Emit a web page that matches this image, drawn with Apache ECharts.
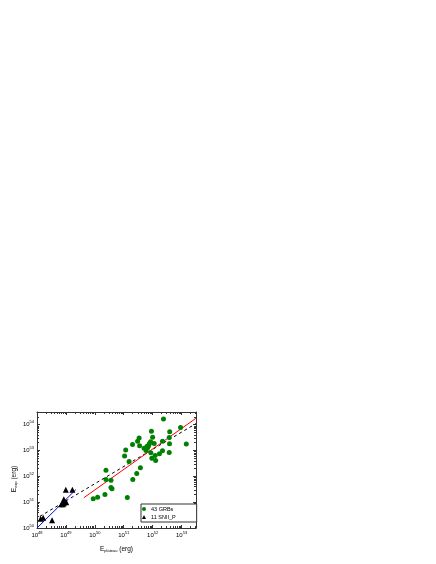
<!DOCTYPE html>
<html><head><meta charset="utf-8">
<script src="https://cdn.jsdelivr.net/npm/echarts@6/dist/echarts.min.js"></script>
<style>html,body{margin:0;padding:0;background:#fff}#c{width:436px;height:564px}</style>
</head><body><div id="c"></div>
<script>
// ---- data ----
const grbX = [8.79e49,1.25e50,2.24e50,2.43e50,2.43e50,3.62e50,3.62e50,1.33e51,2.06e51,2.82e51,3.77e51,3.93e50,
  1.07e51,1.17e51,1.53e51,2.02e51,3.40e51,3.54e51,5.07e51,5.94e51,6.70e51,7.74e51,9.08e51,1.0e52,9.38e51,1.13e52,
  1.22e52,1.27e52,1.72e52,2.19e52,2.19e52,2.37e52,3.74e52,3.89e52,3.83e52,3.74e52,9.23e52,1.46e53,7.26e51,8.51e51,
  8.65e51,6.44e51,3.01e51];
const grbY = [1.34e51,1.53e51,1.95e51,1.69e52,7.40e51,6.95e51,3.63e51,1.49e51,7.40e51,1.26e52,2.11e52,3.27e51,
  6.03e52,1.02e53,3.66e52,1.67e53,2.99e53,1.49e53,1.19e53,9.73e52,1.25e53,1.82e53,5.42e53,3.18e53,4.91e52,1.82e53,
  6.24e52,4.0e52,7.33e52,9.55e52,2.22e53,1.61e54,3.09e53,5.18e53,1.78e53,8.15e52,7.52e53,1.75e53,1.49e53,2.13e53,
  7.94e52,1.43e53,2.22e53];
const snX = [1.34e48,1.64e48,3.32e48,9.93e48,1.67e49,8.45e48,8.79e48,7.80e48,6.92e48,1.03e49,8.45e48];
const snY = [2.26e50,2.48e50,1.98e50,2.99e51,2.99e51,1.28e51,1.07e51,8.22e50,8.22e50,9.82e50,8.99e50];
const seriesNames = ['43 GRBs', '11 SNII_P'];
// fit lines (endpoints)
const fitAllX = [1.26e48, 3.16e53], fitAllY = [2.81e50, 1.07e54];   // dashed, all
const fitGrbX = [4.19e49, 3.16e53], fitGrbY = [1.48e51, 1.72e54];   // red, GRBs
const fitSnX  = [1.0e48, 2.21e49], fitSnY  = [1.0e50, 3.04e51];     // blue, SNe
const xMin = 1e48, xMax = 3.16e53, yMin = 1e50, yMax = 3e54;
const xDecades = [48,49,50,51,52,53];
const yDecades = [50,51,52,53,54];
const xTitle = ['E', 'plateau', ' (erg)'];
const yTitle = ['E', 'exp', ' (erg)'];

// ---- build ----
const FONT = 'Liberation Sans, Arial, sans-serif';
const pairs = (xs, ys) => xs.map((x, i) => [x, ys[i]]);
const supFmt = v => {
  const e = Math.log10(v), r = Math.round(e);
  if (Math.abs(e - r) > 1e-6) return '';
  return '{b|10}{s|' + r + '}';
};
const labelRich = {
  b: {fontSize: 6, fontFamily: FONT, color: '#000'},
  s: {fontSize: 4, fontFamily: FONT, color: '#000', padding: [0, 0, 5, 0]}
};
const titleRich = {
  n: {fontSize: 6.5, fontFamily: FONT, color: '#000'},
  sub: {fontSize: 4, fontFamily: FONT, color: '#000', padding: [4, 0, 0, 0]}
};
const minorData = [];
xDecades.forEach(e => { for (let k = 2; k <= 9; k++) { const v = k * Math.pow(10, e); if (v < xMax) minorData.push([v, yMin, 0]); } });
yDecades.forEach(e => { for (let k = 2; k <= 9; k++) { const v = k * Math.pow(10, e); if (v < yMax) minorData.push([xMin, v, 1]); } });

const FRAME = '#333';
const axCommon = {
  type: 'log', logBase: 10, splitLine: {show: false},
  axisLine: {show: true, lineStyle: {color: FRAME, width: 1}},
  axisTick: {show: true, inside: true, length: 3, lineStyle: {color: FRAME}},
};

const chart = echarts.init(document.getElementById('c'), null, {renderer: 'canvas'});
chart.setOption({
  backgroundColor: '#fff',
  animation: false,
  grid: {left: 37, top: 412, right: 240, bottom: 36, containLabel: false, outerBoundsMode: 'none'},
  xAxis: [
    Object.assign({}, axCommon, {
      position: 'bottom', min: xMin, max: xMax,
      axisLabel: {show: true, margin: 3, formatter: supFmt, rich: labelRich},
      name: '{n|' + xTitle[0] + '}{sub|' + xTitle[1] + '}{n|' + xTitle[2] + '}',
      nameLocation: 'middle', nameGap: 17,
      nameTextStyle: {rich: titleRich}
    }),
    Object.assign({}, axCommon, {position: 'top', min: xMin, max: xMax, axisLabel: {show: false}})
  ],
  yAxis: [
    Object.assign({}, axCommon, {
      position: 'left', min: yMin, max: yMax,
      axisLabel: {show: true, margin: 3, formatter: supFmt, rich: labelRich},
      name: '{n|' + yTitle[0] + '}{sub|' + yTitle[1] + '}{n|' + yTitle[2] + '}',
      nameLocation: 'middle', nameGap: 19,
      nameTextStyle: {rich: titleRich, padding: [0, 18, 0, 0]}
    }),
    Object.assign({}, axCommon, {position: 'right', min: yMin, max: yMax, axisLabel: {show: false}})
  ],
  legend: {
    orient: 'vertical', left: 141, top: 504,
    itemWidth: 4, itemHeight: 4, itemGap: 2,
    padding: [2, 21, 2, 1],
    borderColor: FRAME, borderWidth: 1, backgroundColor: '#fff',
    textStyle: {fontSize: 5.5, fontFamily: FONT, color: '#000'},
    data: seriesNames
  },
  series: [
    {
      type: 'custom', name: 'minor', silent: true, clip: false, z: 1,
      xAxisIndex: 0, yAxisIndex: 0, data: minorData,
      renderItem: (params, api) => {
        const cs = params.coordSys;
        const st = {stroke: FRAME, lineWidth: 1};
        if (api.value(2) === 0) {
          const px = Math.round(api.coord([api.value(0), yMin])[0]) + 0.5;
          const yb = cs.y + cs.height, yt = cs.y;
          return {type: 'group', children: [
            {type: 'line', shape: {x1: px, y1: yb, x2: px, y2: yb - 2}, style: st},
            {type: 'line', shape: {x1: px, y1: yt, x2: px, y2: yt + 2}, style: st}
          ]};
        } else {
          const py = Math.round(api.coord([xMin, api.value(1)])[1]) + 0.5;
          const xl = cs.x, xr = cs.x + cs.width;
          return {type: 'group', children: [
            {type: 'line', shape: {x1: xl, y1: py, x2: xl + 2, y2: py}, style: st},
            {type: 'line', shape: {x1: xr, y1: py, x2: xr - 2, y2: py}, style: st}
          ]};
        }
      }
    },
    {
      type: 'line', name: 'fitAll', data: pairs(fitAllX, fitAllY), symbol: 'none', z: 3,
      lineStyle: {color: '#000', width: 1, type: [3, 3]}
    },
    {
      type: 'line', name: 'fitGrb', data: pairs(fitGrbX, fitGrbY), symbol: 'none', z: 3,
      lineStyle: {color: '#ff0000', width: 1}
    },
    {
      type: 'line', name: 'fitSn', data: pairs(fitSnX, fitSnY), symbol: 'none', z: 3,
      lineStyle: {color: '#0000ff', width: 1}
    },
    {
      type: 'scatter', name: seriesNames[0], data: pairs(grbX, grbY), symbol: 'circle', symbolSize: 5, z: 4,
      itemStyle: {color: '#008000', opacity: 1}
    },
    {
      type: 'scatter', name: seriesNames[1], data: pairs(snX, snY), symbol: 'triangle', symbolSize: 6, z: 4,
      itemStyle: {color: '#000', opacity: 1}
    }
  ]
});
</script>
</body></html>
